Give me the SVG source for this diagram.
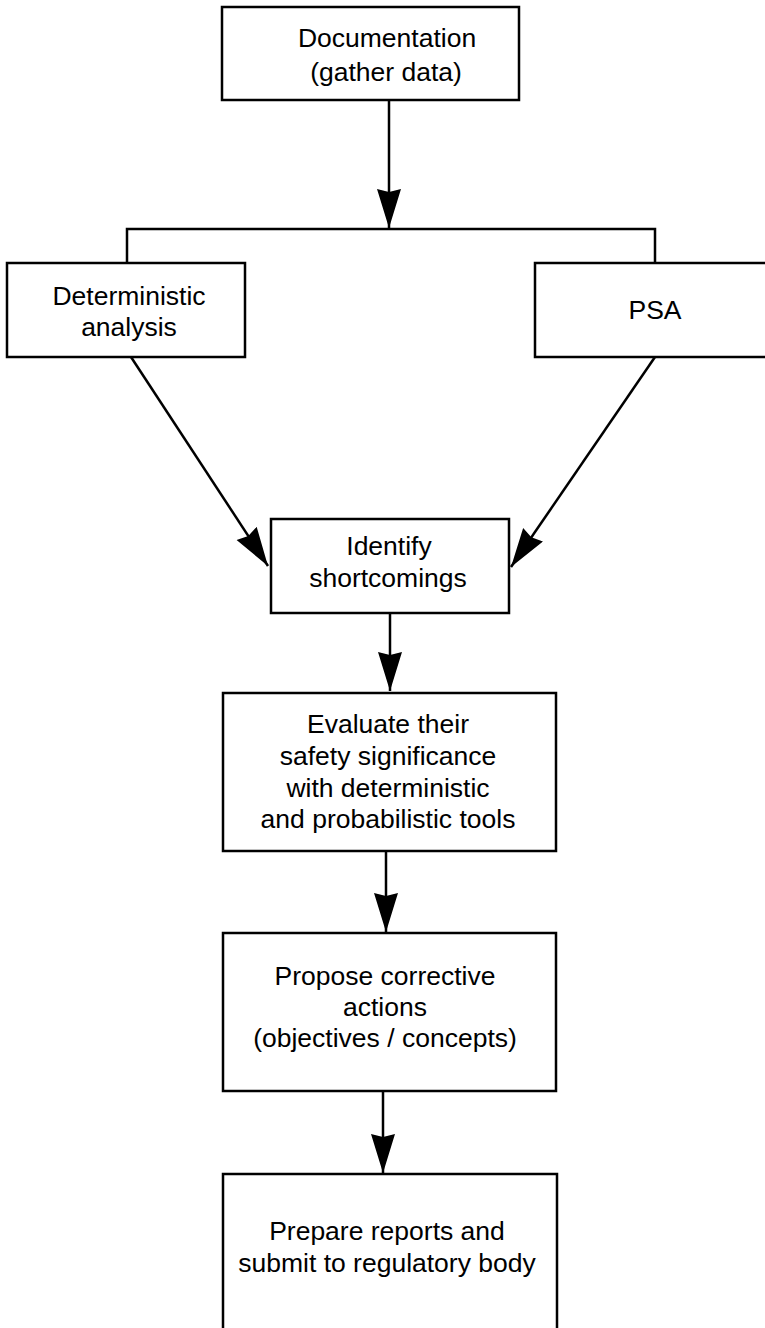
<svg xmlns="http://www.w3.org/2000/svg" width="765" height="1328" viewBox="0 0 765 1328">
<style>
.box{fill:#fff;stroke:#000;stroke-width:2.5}
.t{font-family:"Liberation Sans",Arial,sans-serif;font-size:26.5px;fill:#000;text-anchor:middle}
.c{fill:none;stroke:#000;stroke-width:2.5}
.a{marker-end:url(#ah)}
</style>
<defs>
<marker id="ah" markerUnits="userSpaceOnUse" markerWidth="40" markerHeight="26" refX="39" refY="12" orient="auto">
<path d="M0,0 L39,12 L0,24 L3,12 z" fill="#000"/>
</marker>
</defs>
<rect width="765" height="1328" fill="#fff"/>
<g id="connectors">
<line class="c a" x1="389" y1="100" x2="389" y2="228"/>
<polyline class="c" points="127,263 127,229 655,229 655,263"/>
<line class="c a" x1="131" y1="357" x2="268" y2="566"/>
<line class="c a" x1="655" y1="357" x2="511" y2="567"/>
<line class="c a" x1="390" y1="613" x2="390" y2="691"/>
<line class="c a" x1="386" y1="851" x2="386" y2="932"/>
<line class="c a" x1="383" y1="1091" x2="383" y2="1173"/>
</g>
<g id="doc">
<rect class="box" x="222" y="7" width="297" height="93"/>
<text class="t" x="387" y="47">Documentation</text>
<text class="t" x="386" y="81">(gather data)</text>
</g>
<g id="det">
<rect class="box" x="7" y="263" width="238" height="94"/>
<text class="t" x="129" y="305">Deterministic</text>
<text class="t" x="129" y="336">analysis</text>
</g>
<g id="psa">
<rect class="box" x="535" y="263" width="240" height="94"/>
<text class="t" x="655" y="319">PSA</text>
</g>
<g id="identify">
<rect class="box" x="271" y="519" width="238" height="94"/>
<text class="t" x="389" y="555">Identify</text>
<text class="t" x="388" y="587">shortcomings</text>
</g>
<g id="evaluate">
<rect class="box" x="223" y="693" width="333" height="158"/>
<text class="t" x="388" y="733">Evaluate their</text>
<text class="t" x="388" y="765">safety significance</text>
<text class="t" x="388" y="797">with deterministic</text>
<text class="t" x="388" y="828">and probabilistic tools</text>
</g>
<g id="propose">
<rect class="box" x="223" y="933" width="333" height="158"/>
<text class="t" x="385" y="985">Propose corrective</text>
<text class="t" x="385" y="1016">actions</text>
<text class="t" x="385" y="1047">(objectives / concepts)</text>
</g>
<g id="prepare">
<rect class="box" x="223" y="1174" width="334" height="170"/>
<text class="t" x="387" y="1240">Prepare reports and</text>
<text class="t" x="387" y="1272">submit to regulatory body</text>
</g>
</svg>
